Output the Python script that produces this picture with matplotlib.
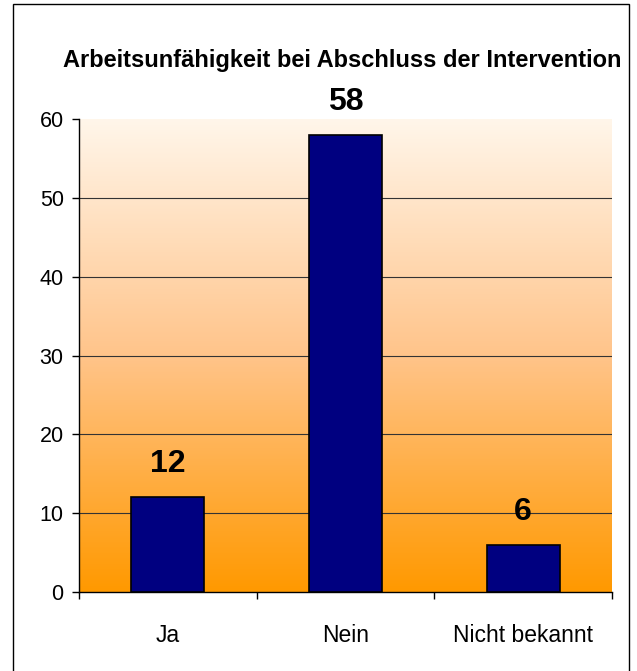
import matplotlib
matplotlib.use("Agg")
import matplotlib.pyplot as plt
import numpy as np
from matplotlib.colors import LinearSegmentedColormap
from matplotlib.patches import Rectangle

categories = ["Ja", "Nein", "Nicht bekannt"]
values = [12, 58, 6]
title = "Arbeitsunfähigkeit bei Abschluss der Intervention"
yticks = [0, 10, 20, 30, 40, 50, 60]

plt.rcParams["font.family"] = ["Liberation Sans", "DejaVu Sans"]

fig = plt.figure(figsize=(6.37, 6.71), dpi=100)
ax = fig.add_axes([79 / 637, 79 / 671, 533 / 637, 473 / 671])

# gradient background (light cream at top -> orange at bottom)
cmap = LinearSegmentedColormap.from_list("bg", ["#FF9900", "#FFC48A", "#FFF6EA"])
grad = np.linspace(0, 1, 256).reshape(-1, 1)
ax.imshow(grad, aspect="auto", cmap=cmap, origin="lower",
          extent=[0, 1, 0, 1], transform=ax.transAxes, zorder=0)

x = np.arange(len(categories))
bars = ax.bar(x, values, width=0.41, color="#000080", edgecolor="black",
              linewidth=1.2, zorder=3)
for b, v in zip(bars, values):
    ax.annotate(str(v), (b.get_x() + b.get_width() / 2, v),
                xytext=(0, 18), textcoords="offset pixels",
                ha="center", va="bottom", fontsize=23, fontweight="bold")

ax.set_xlim(-0.5, 2.5)
ax.set_ylim(0, 60)
ax.set_yticks(yticks)
for t in yticks[1:-1]:
    ax.axhline(t, color="#333333", linewidth=0.8, zorder=1)

ax.set_xticks(x)
ax.set_xticklabels(categories)
ax.set_xticks([-0.5, 0.5, 1.5, 2.5], minor=True)
ax.tick_params(axis="x", which="major", length=0, pad=23, labelsize=16.5)
ax.tick_params(axis="x", which="minor", length=5, width=1, direction="out")
ax.tick_params(axis="y", length=5, width=1, direction="out", pad=6, labelsize=15.5)

for s in ["top", "right"]:
    ax.spines[s].set_visible(False)
ax.spines["left"].set_linewidth(1)
ax.spines["bottom"].set_linewidth(1)

fig.text(342 / 637, 1 - 60 / 671, title, ha="center", va="center",
         fontsize=17, fontweight="bold")

# outer chart frame
fig.patches.append(Rectangle((13 / 637, -0.01), 616 / 637, 1 - 4 / 671 + 0.01,
                             transform=fig.transFigure, fill=False,
                             edgecolor="black", linewidth=1))

fig.savefig("out.png", dpi=100)
